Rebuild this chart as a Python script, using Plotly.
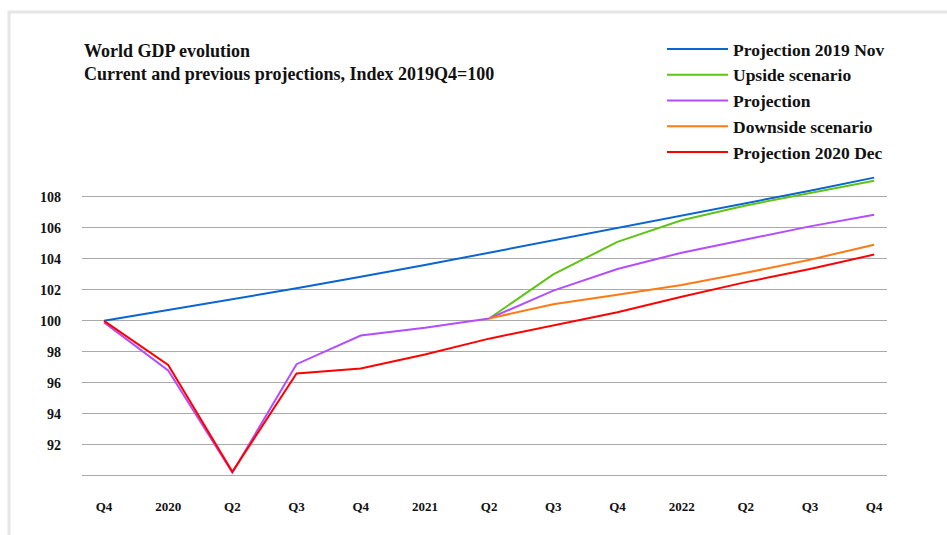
import plotly.graph_objects as go

quarters = ["Q4", "2020", "Q2", "Q3", "Q4", "2021", "Q2", "Q3", "Q4", "2022", "Q2", "Q3", "Q4"]
x_idx = list(range(len(quarters)))

proj_2019_nov = [100.0, 100.7, 101.4, 102.1, 102.85, 103.6, 104.4, 105.2, 106.0, 106.8, 107.6, 108.4, 109.25]
upside = [None, None, None, None, None, None, 100.15, 103.0, 105.1, 106.5, 107.45, 108.25, 109.05]
projection = [99.9, 96.8, 90.2, 97.2, 99.05, 99.55, 100.15, 101.95, 103.35, 104.4, 105.25, 106.1, 106.85]
downside = [None, None, None, None, None, None, 100.15, 101.07, 101.68, 102.32, 103.1, 103.95, 104.92]
proj_2020_dec = [100.0, 97.15, 90.25, 96.6, 96.92, 97.83, 98.85, 99.72, 100.56, 101.55, 102.5, 103.35, 104.28]

y_ticks = [90, 92, 94, 96, 98, 100, 102, 104, 106, 108]
y_labels = ["", "92", "94", "96", "98", "100", "102", "104", "106", "108"]

series = [
    ("Projection 2019 Nov", proj_2019_nov, "#0a64d2"),
    ("Upside scenario", upside, "#5ec416"),
    ("Projection", projection, "#b44dff"),
    ("Downside scenario", downside, "#ff7a14"),
    ("Projection 2020 Dec", proj_2020_dec, "#ff0000"),
]

SERIF = "Liberation Serif, Times New Roman, serif"

fig = go.Figure()
for i, (name, vals, col) in enumerate(series):
    fig.add_trace(go.Scatter(
        x=x_idx, y=vals, name=name, mode="lines",
        line=dict(color=col, width=2),
        legendgroup=f"g{i}", connectgaps=False,
    ))

W, H = 947, 535
Y0, Y1 = 89.85, 110.0
L, R, T, B = 82, 60, 166, 57

def px2paper_x(px):
    return (px - L) / (W - L - R)

def px2paper_y(py):
    return (H - B - py) / (H - T - B)

fig.update_layout(
    width=W, height=H,
    margin=dict(l=L, r=R, t=T, b=B),
    paper_bgcolor="white", plot_bgcolor="white",
    font=dict(family=SERIF, color="#111111"),
    showlegend=True,
    legend=dict(
        x=px2paper_x(662), y=px2paper_y(31), xanchor="left", yanchor="top",
        font=dict(family=SERIF, size=17.5, color="#111111", weight="bold"),
        tracegroupgap=0, itemwidth=61, bgcolor="rgba(0,0,0,0)",
    ),
    xaxis=dict(
        range=[-0.343, 12.2], tickvals=x_idx, ticktext=quarters,
        showgrid=False, zeroline=False, showline=False, ticks="",
        tickfont=dict(family=SERIF, size=13, color="#111111", weight="bold"),
        ticklabelstandoff=19,
    ),
    yaxis=dict(
        range=[Y0, Y1], tickvals=y_ticks, ticktext=y_labels,
        showgrid=True, gridcolor="#aaaaaa", gridwidth=1.3,
        zeroline=False, showline=False, ticks="",
        tickfont=dict(family=SERIF, size=14, color="#111111", weight="bold"),
        ticklabelstandoff=20,
    ),
    annotations=[
        dict(
            text="World GDP evolution<br>Current and previous projections, Index 2019Q4=100",
            xref="paper", yref="paper", x=0, y=px2paper_y(39),
            xanchor="left", yanchor="top", align="left", showarrow=False,
            font=dict(family=SERIF, size=18, color="#111111", weight="bold"),
        )
    ],
    shapes=[
        dict(type="rect", xref="paper", yref="paper",
             x0=px2paper_x(9), x1=px2paper_x(970), y0=px2paper_y(560), y1=px2paper_y(12),
             line=dict(color="#e6e6e6", width=3), fillcolor="rgba(0,0,0,0)", layer="below"),
    ],
)

fig.write_html("out.html")
